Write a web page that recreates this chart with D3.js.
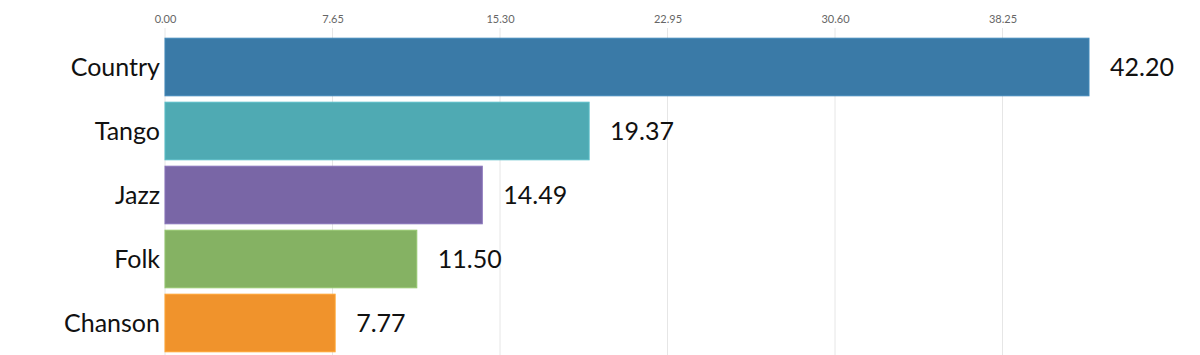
<!DOCTYPE html>
<html><head><meta charset="utf-8">
<script src="https://cdn.jsdelivr.net/npm/d3@7"></script>
<style>body{margin:0;background:#fff;}svg{display:block;font-family:"Source Sans Pro",Lato,sans-serif;}</style>
</head><body>
<svg id="c" width="1200" height="355"></svg>
<script>
const categories = ["Country","Tango","Jazz","Folk","Chanson"];
const values = [42.20, 19.37, 14.49, 11.50, 7.77];
const colors = ["#3a7aa7","#4faab3","#7966a6","#85b263","#f0932c"];
const tickValues = [0, 7.65, 15.30, 22.95, 30.60, 38.25];

const svg = d3.select("#c");
const x = d3.scaleLinear().domain([0, 45.9]).range([165, 1170]);
const y = d3.scaleBand().domain(categories).range([35, 355]).paddingInner(0.1).paddingOuter(0.05);

svg.append("g").selectAll("line").data(tickValues).join("line")
  .attr("x1", d => x(d)).attr("x2", d => x(d))
  .attr("y1", 28).attr("y2", 355)
  .attr("stroke", "#e6e6e6").attr("stroke-width", 1);

const ax = svg.append("g").attr("transform", "translate(0,28)")
  .call(d3.axisTop(x).tickValues(tickValues).tickFormat(d3.format(".2f")).tickSize(0).tickPadding(5));
ax.select(".domain").remove();
ax.selectAll("text").attr("fill", "#666").style("font-size", "11px").style("font-family", "'Source Sans Pro',Lato,sans-serif");

const data = categories.map((c, i) => ({c, v: values[i], col: colors[i]}));

svg.append("g").selectAll("rect").data(data).join("rect")
  .attr("x", x(0)).attr("y", d => y(d.c))
  .attr("width", d => x(d.v) - x(0)).attr("height", y.bandwidth())
  .attr("fill", d => d.col)
  .attr("stroke", d => d3.color(d.col).brighter(0.3)).attr("stroke-width", 1);

svg.append("g").selectAll("text").data(data).join("text")
  .attr("x", 160).attr("y", d => y(d.c) + y.bandwidth()/2)
  .attr("text-anchor", "end").attr("dy", "0.35em")
  .style("font-size", "25px").attr("fill", "#111").text(d => d.c);

svg.append("g").selectAll("text").data(data).join("text")
  .attr("x", d => x(d.v) + 21).attr("y", d => y(d.c) + y.bandwidth()/2)
  .attr("dy", "0.35em")
  .style("font-size", "25px").attr("fill", "#111").text(d => d3.format(".2f")(d.v));
</script>
</body></html>
